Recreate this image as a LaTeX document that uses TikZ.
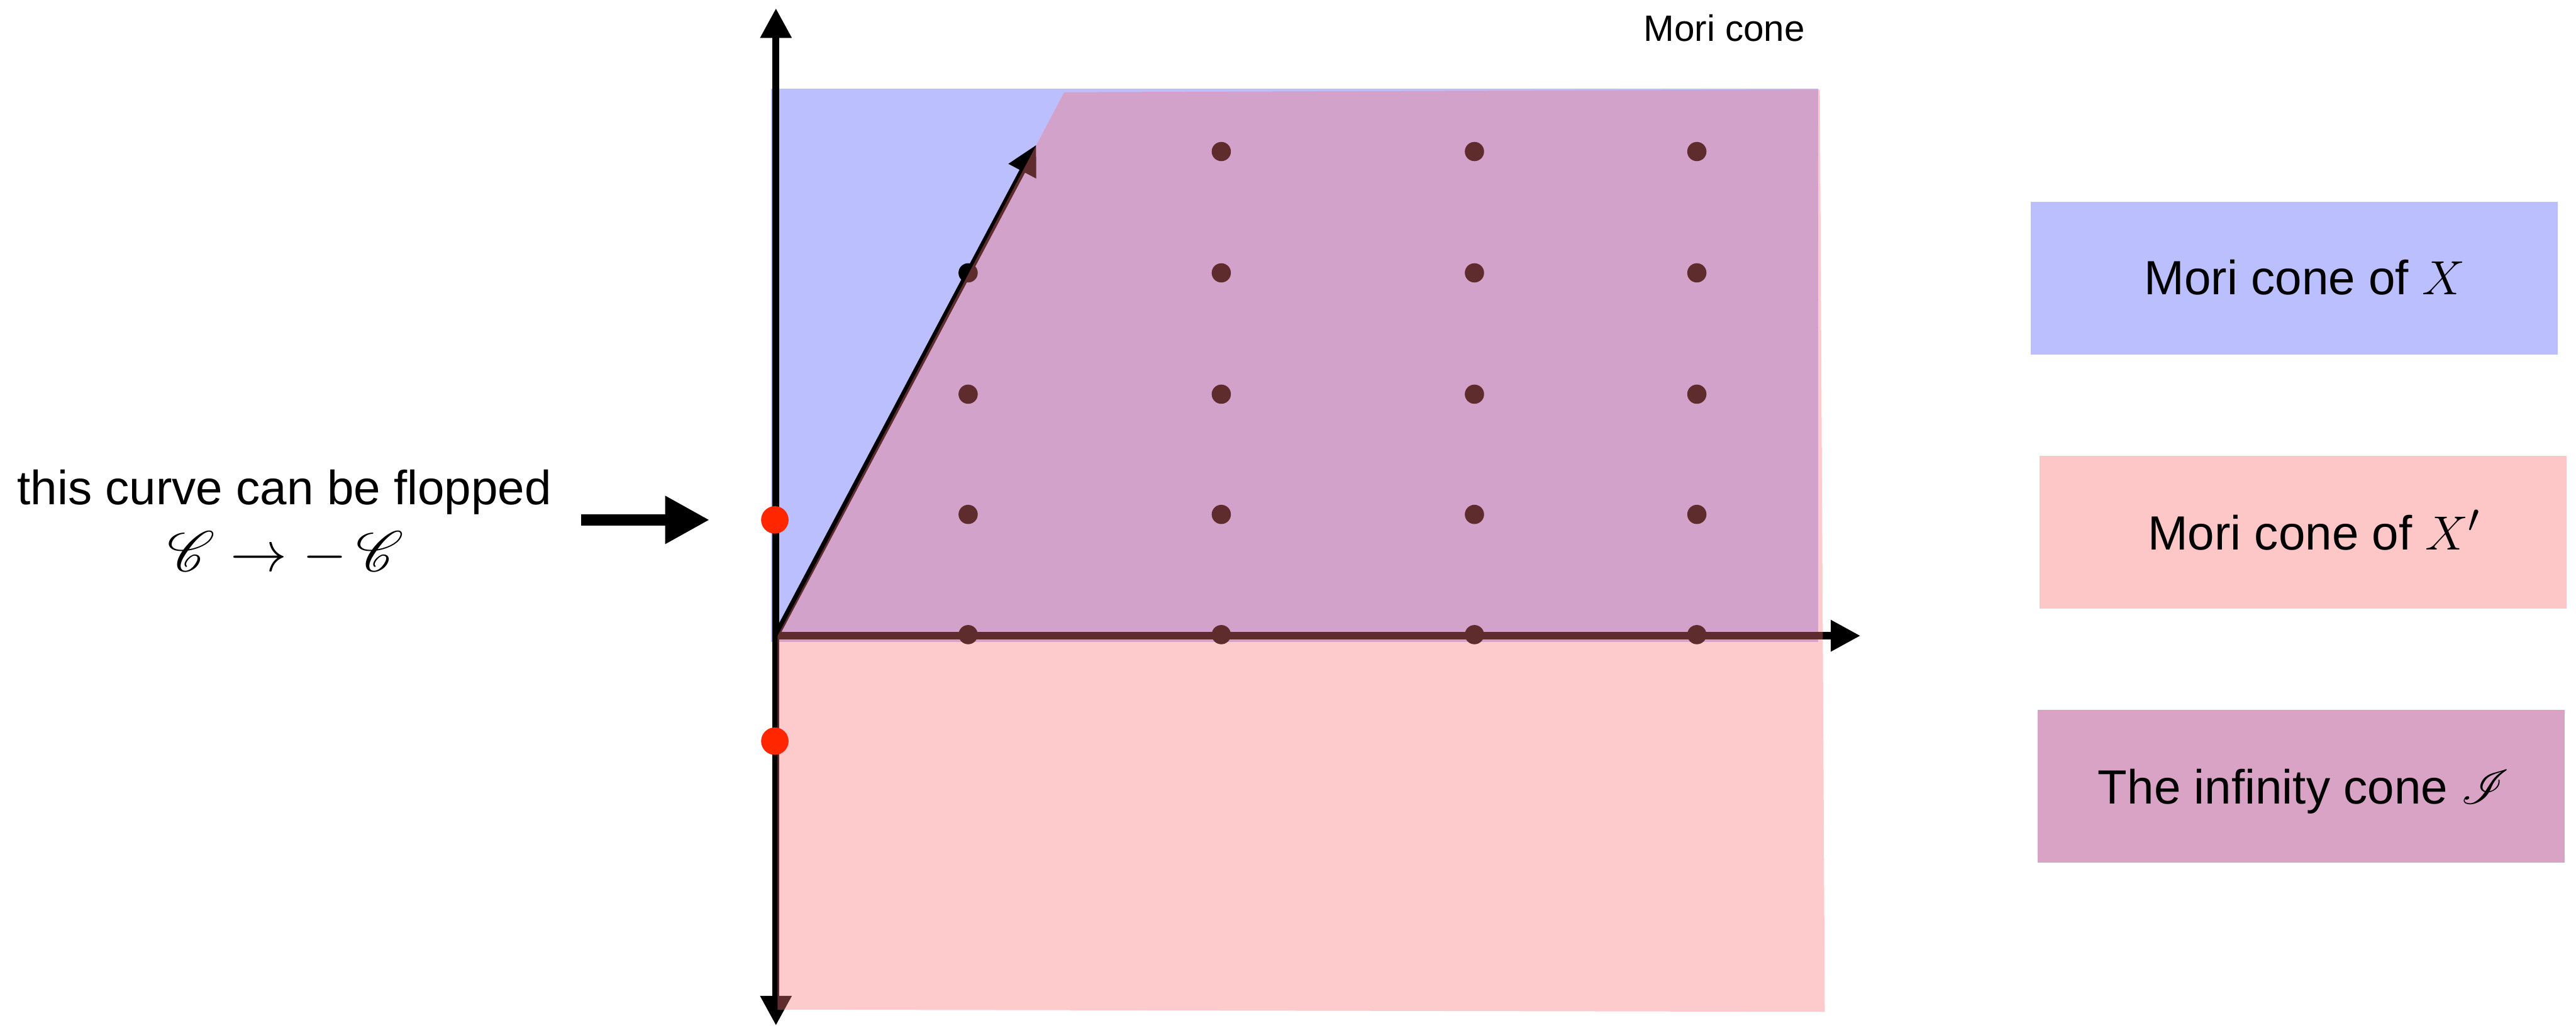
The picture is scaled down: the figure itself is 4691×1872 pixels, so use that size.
\documentclass[tikz,border=0pt]{standalone}
\usepackage{fontspec}
\setmainfont{Liberation Sans}
\usepackage{mathrsfs}
\usepackage{graphicx}
\usetikzlibrary{arrows.meta}
\definecolor{coneblue}{HTML}{BBBFFD}
\definecolor{overlayred}{HTML}{FA757A}
\definecolor{legpink}{HTML}{FDC7C8}
\definecolor{legpurple}{HTML}{D9A3C6}
\definecolor{dotred}{HTML}{FF2600}
\begin{document}
\begin{tikzpicture}[x=0.01cm, y=-0.01cm,
  axis/.style={line width=3.7pt, -{Triangle[length=15.4pt,width=15.4pt]}},
  bigarrow/.style={line width=6pt, -{Triangle[length=23pt,width=23.3pt]}},
  latdot/.style={circle, fill=black, inner sep=0pt, minimum size=0.35cm},
  reddot/.style={circle, fill=dotred, inner sep=0pt, minimum size=0.5cm},
  legbox/.style={minimum width=9.59cm, minimum height=2.78cm, inner sep=0pt},
  bigtext/.style={font=\fontsize{24.88}{30}\selectfont, inner sep=0pt, anchor=base},
  smalltext/.style={font=\fontsize{19}{23}\selectfont, inner sep=0pt, anchor=base}]
\useasboundingbox (0,0) rectangle (4691,1872);

% coordinates
\coordinate (O) at (1413,1158);
\coordinate (vtop) at (1413,15);
\coordinate (vbot) at (1413,1868);
\coordinate (htip) at (3388,1158);
\coordinate (dtip) at (1887,264);
\coordinate (ptop) at (1938,168);
\coordinate (barrowstart) at (1058,947);

% Mori cone of X (blue)
\fill[coneblue] (1404,161) rectangle (3311,1169);

% axes
\draw[axis] (O) -- (vtop);
\draw[axis] (O) -- (vbot);
\draw[axis] (O) -- (htip);
\draw[axis, line width=3.2pt] (O) -- (dtip);

% lattice points
\foreach \x/\y [count=\i] in {1763/1156, 2224/1156, 2685/1156, 3090/1156,
                               1763/937, 2224/937, 2685/937, 3090/937,
                               1763/718, 2224/718, 2685/718, 3090/718,
                               1763/497, 2224/497, 2685/497, 3090/497,
                               2224/276, 2685/276, 3090/276}
  \node[latdot] (d\i) at (\x,\y) {};

% Mori cone of X' (translucent overlay)
\fill[overlayred, fill opacity=0.38] (1416,1158) -- (ptop) -- (3314,163) -- (3323,1843) -- (1416,1839) -- cycle;

% flopping curves
\node[reddot] (r1) at (1411,947) {};
\node[reddot] (r2) at (1411,1350) {};

% annotation
\node[bigtext] (flop) at (518,919) {this curve can be flopped};
\node[bigtext] (flopmath) at (520,1040) {\scalebox{1.18}{$\mathscr{C}\to-\,\mathscr{C}$}};
\draw[bigarrow, shorten >=0.93cm] (barrowstart) -- (r1);

\node[smalltext] (title) at (3140,75) {Mori cone};

% legend
\node[legbox, fill=coneblue] (leg1) at (4177.5,507) {};
\node[bigtext] (leg1t) at (4197,537) {Mori cone of $X$};
\node[legbox, fill=legpink] (leg2) at (4193.5,969.5) {};
\node[bigtext] (leg2t) at (4214,1001) {Mori cone of $X'$};
\node[legbox, fill=legpurple] (leg3) at (4190,1432.5) {};
\node[bigtext] (leg3t) at (4195,1464) {The infinity cone $\mathscr{I}$};
\end{tikzpicture}
\end{document}
